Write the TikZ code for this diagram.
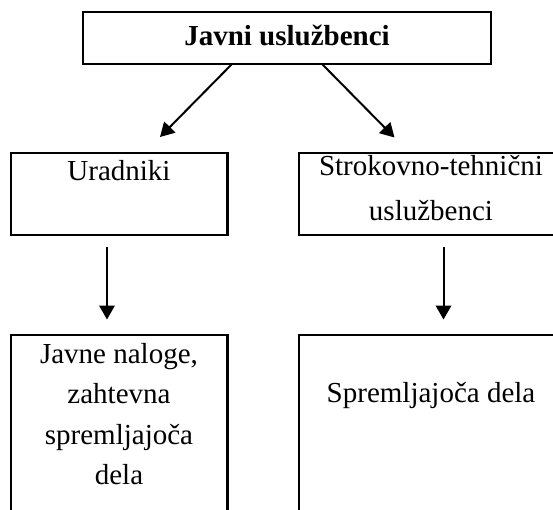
\documentclass[tikz,border=0pt]{standalone}
\usepackage{fontspec}
\setmainfont{Liberation Serif}
\usetikzlibrary{arrows.meta,calc}

\tikzset{
  box/.style={draw, line width=2.2pt, inner sep=0pt, outer sep=0pt, anchor=north west},
  label/.style={inner sep=0pt, anchor=base},
  link/.style={line width=2pt, -{Triangle[length=14pt,width=15.5pt]}},
}
\newcommand{\lines}[2]{\parbox[t]{240pt}{\centering\fontsize{29}{#1}\selectfont #2}}

\begin{document}
\begin{tikzpicture}[x=1pt,y=-1pt]
  \useasboundingbox (0,0) rectangle (553,509);
  \clip (0,0) rectangle (553,509);
  \fontsize{29}{40.6}\selectfont

  % boxes
  \node[box, minimum width=408pt, minimum height=52pt] (top) at (83,12) {};
  \node[box, minimum width=216.5pt, minimum height=82pt] (urad) at (11,153) {};
  \node[box, minimum width=264pt, minimum height=82pt] (strok) at (299,153) {};
  \node[box, minimum width=216.5pt, minimum height=190pt] (javne) at (11,335) {};
  \node[box, minimum width=264pt, minimum height=190pt] (sprem) at (299,335) {};

  % texts
  \node[label] (ttop) at (287,45) {\bfseries Javni uslužbenci};
  \node[label] (turad) at (119,180) {Uradniki};
  \node[label] (tstrok) at (431,175) {\lines{45.7pt}{Strokovno-tehnični\\uslužbenci}};
  \node[label] (tjavne) at (119,363) {\lines{40.6pt}{Javne naloge,\\zahtevna\\spremljajoča\\dela}};
  \node[label] (tsprem) at (431,402) {Spremljajoča dela};

  % arrow ends
  \coordinate (lstart) at ($(top.south west)+(149,0)$);
  \coordinate (rstart) at ($(top.south west)+(239,0)$);
  \coordinate (ltip) at (160,137);
  \coordinate (rtip) at (394.5,137.5);
  \coordinate (ldown) at (107,247);
  \coordinate (ltip2) at (107,319.5);
  \coordinate (rdown) at (443.5,247);
  \coordinate (rtip2) at (443.5,319.5);

  % connectors
  \draw[link] (lstart) -- (ltip);
  \draw[link] (rstart) -- (rtip);
  \draw[link] (ldown) -- (ltip2);
  \draw[link] (rdown) -- (rtip2);
\end{tikzpicture}
\end{document}
